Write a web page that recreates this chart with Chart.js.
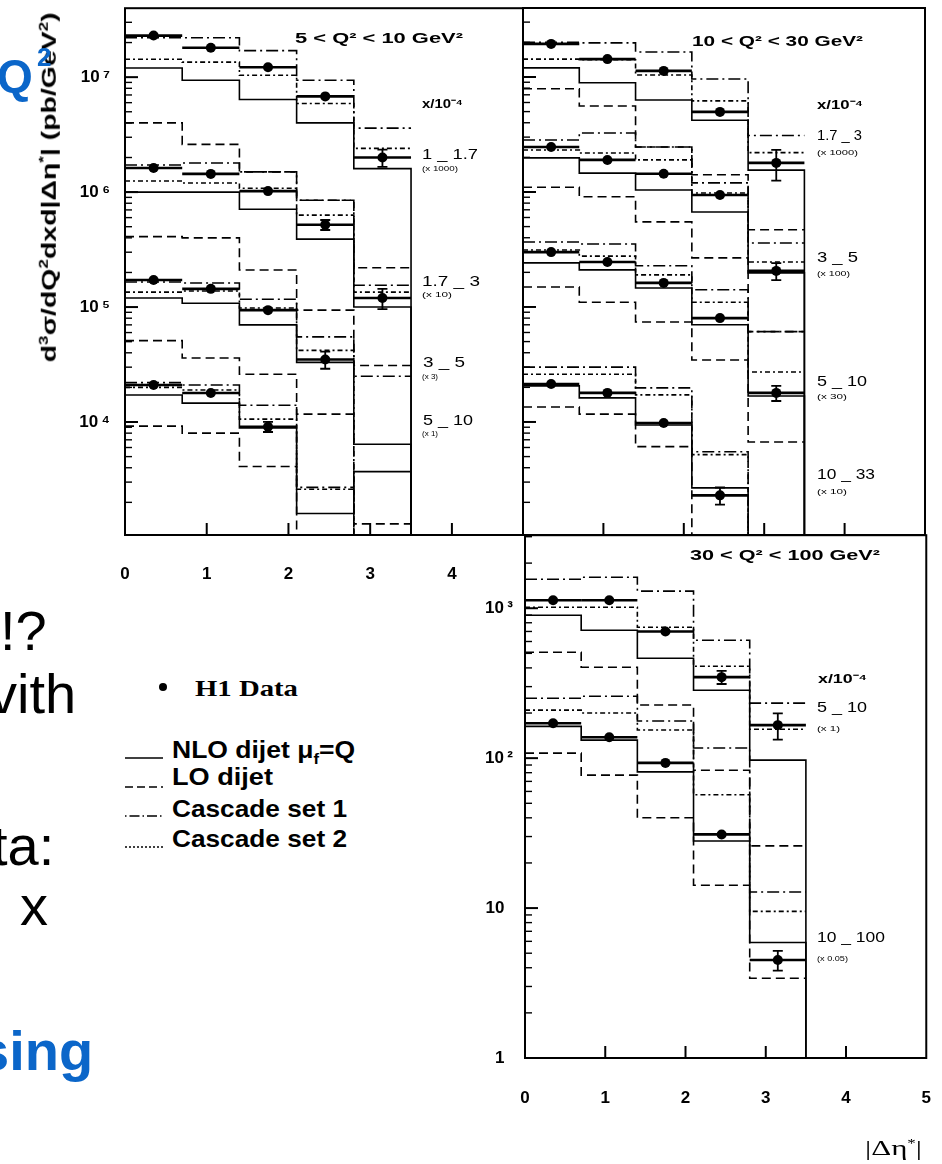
<!DOCTYPE html>
<html>
<head>
<meta charset="utf-8">
<title>Dijet cross section vs |Δη*|</title>
<script src="https://cdn.jsdelivr.net/npm/chart.js@4.4.1/dist/chart.umd.min.js"></script>
<style>
  html, body { margin: 0; padding: 0; background: #fff; }
  body { width: 942px; height: 1164px; position: relative; overflow: hidden;
         font-family: "Liberation Sans", Arial, sans-serif; color: #000; }
  canvas { position: absolute; }
  .t { position: absolute; white-space: nowrap; line-height: 1; transform-origin: 0 50%; }
  .hd { font-weight: bold; font-size: 15px; }
  .xl { font-size: 14px; }
  .sc { font-size: 8px; }
  .slide { position: absolute; white-space: nowrap; line-height: 1; font-size: 56px; }
  .blue { color: #0b66c9; font-weight: bold; }
  .leg { position: absolute; white-space: nowrap; line-height: 1; font-weight: bold; font-size: 24px; transform-origin: 0 50%; }
</style>
</head>
<body>

<canvas id="tl" width="530" height="617" style="left:0;top:-17px"></canvas>
<canvas id="tr" width="427" height="545" style="left:515px;top:0"></canvas>
<canvas id="br" width="561" height="651" style="left:400px;top:513px"></canvas>

<div id="ytitle" class="t" style="font-weight:bold;font-size:20px">d<sup style="font-size:12px">3</sup>σ/dQ<sup style="font-size:12px">2</sup>dxd|Δη<sup style="font-size:12px">*</sup>| (pb/GeV<sup style="font-size:12px">2</sup>)</div>

<!-- panel labels -->
<div class="t hd" data-w="168" style="left:295px;top:30px">5 &lt; Q² &lt; 10 GeV²</div>
<div class="t hd" data-w="41" style="left:422px;top:97px;font-size:13px">x/10⁻⁴</div>
<div class="t xl" data-w="56" style="left:422px;top:147px">1 _ 1.7</div>
<div class="t sc" data-w="36" style="left:422px;top:165px">(x 1000)</div>
<div class="t xl" data-w="58" style="left:422px;top:274px">1.7 _ 3</div>
<div class="t sc" data-w="30" style="left:422px;top:291px">(x 10)</div>
<div class="t xl" data-w="42" style="left:423px;top:355px">3 _ 5</div>
<div class="t sc" data-w="16" style="left:422px;top:373px">(x 3)</div>
<div class="t xl" data-w="50" style="left:423px;top:413px">5 _ 10</div>
<div class="t sc" data-w="16" style="left:422px;top:430px">(x 1)</div>

<div class="t hd" data-w="171" style="left:692px;top:33px">10 &lt; Q² &lt; 30 GeV²</div>
<div class="t hd" data-w="46" style="left:817px;top:98px;font-size:13px">x/10⁻⁴</div>
<div class="t xl" data-w="45" style="left:817px;top:128px">1.7 _ 3</div>
<div class="t sc" data-w="41" style="left:817px;top:149px">(x 1000)</div>
<div class="t xl" data-w="41" style="left:817px;top:250px">3 _ 5</div>
<div class="t sc" data-w="33" style="left:817px;top:270px">(x 100)</div>
<div class="t xl" data-w="50" style="left:817px;top:374px">5 _ 10</div>
<div class="t sc" data-w="30" style="left:817px;top:393px">(x 30)</div>
<div class="t xl" data-w="58" style="left:817px;top:467px">10 _ 33</div>
<div class="t sc" data-w="30" style="left:817px;top:488px">(x 10)</div>

<div class="t hd" data-w="190" style="left:690px;top:547px">30 &lt; Q² &lt; 100 GeV²</div>
<div class="t hd" data-w="49" style="left:818px;top:672px;font-size:13px">x/10⁻⁴</div>
<div class="t xl" data-w="50" style="left:817px;top:700px">5 _ 10</div>
<div class="t sc" data-w="23" style="left:817px;top:725px">(x 1)</div>
<div class="t xl" data-w="68" style="left:817px;top:930px">10 _ 100</div>
<div class="t sc" data-w="31" style="left:817px;top:955px">(x 0.05)</div>
<div class="t" data-w="57" style="left:865px;top:1137px;font-family:'Liberation Serif',serif;font-size:22px">|Δη<sup style="font-size:12px">*</sup>|</div>

<!-- legend -->
<div style="position:absolute;left:159px;top:683px;width:8px;height:8px;border-radius:50%;background:#000"></div>
<div class="leg" data-w="103" style="left:195px;top:676px;font-family:'Liberation Serif',serif">H1 Data</div>
<svg style="position:absolute;left:122px;top:740px" width="52" height="120">
  <line x1="3" y1="18" x2="41" y2="18" stroke="#000" stroke-width="1.6"/>
  <line x1="3" y1="47" x2="41" y2="47" stroke="#000" stroke-width="1.6" stroke-dasharray="8,4"/>
  <line x1="3" y1="76" x2="41" y2="76" stroke="#000" stroke-width="1.6" stroke-dasharray="1.5,3,10,3"/>
  <line x1="3" y1="107" x2="41" y2="107" stroke="#000" stroke-width="1.6" stroke-dasharray="2,2"/>
</svg>
<div class="leg" data-w="183" style="left:172px;top:738px">NLO dijet μ<sub style="font-size:15px">f</sub>=Q</div>
<div class="leg" data-w="101" style="left:172px;top:765px">LO dijet</div>
<div class="leg" data-w="175" style="left:172px;top:797px">Cascade set 1</div>
<div class="leg" data-w="175" style="left:172px;top:827px">Cascade set 2</div>

<!-- slide text behind the figure -->
<div class="slide" style="left:0;top:603px">!?</div>
<div class="slide" style="left:-11px;top:666px">vith</div>
<div class="slide" style="left:-8px;top:818px">ta:</div>
<div class="slide" style="left:20px;top:878px">x</div>
<div class="slide blue" style="left:-22px;top:1023px">sing</div>
<div class="slide blue" style="left:-3px;top:53px;font-size:46px">Q</div>
<div class="slide blue" style="left:37px;top:44px;font-size:26px">2</div>

<script>
// bins in |Δη*|
var etaEdges = [0, 0.7, 1.4, 2.1, 2.8, 3.5];
var etaCentres = [0.35, 1.05, 1.75, 2.45, 3.15];

// ---- 5 < Q2 < 10 GeV2 ----
// x/1e-4 = 1 - 1.7
var q5_x1_data = [2.3e7, 1.8e7, 1.22e7, 6.8e6, 2.0e6];
var q5_x1_err  = [0.03, 0.03, 0.04, 0.05, 0.17];
var q5_x1_nlo  = [1.2e7, 9.4e6, 6.4e6, 4.0e6, 1.6e6];
var q5_x1_lo   = [4.0e6, 2.6e6, 1.5e6, 8.5e5, 2.2e5];
var q5_x1_cas1 = [2.2e7, 2.2e7, 1.7e7, 9.4e6, 3.6e6];
var q5_x1_cas2 = [1.43e7, 1.35e7, 1.04e7, 5.9e6, 2.4e6];
// 1.7 - 3
var q5_x2_data = [1.62e6, 1.44e6, 1.02e6, 5.2e5, 1.2e5];
var q5_x2_err  = [0.03, 0.03, 0.04, 0.10, 0.20];
var q5_x2_nlo  = [1.0e6, 1.0e6, 7.1e5, 3.9e5, 1.0e5];
var q5_x2_lo   = [4.1e5, 4.0e5, 2.1e5, 9.4e4, 3.1e4];
var q5_x2_cas1 = [1.72e6, 1.79e6, 1.5e6, 8.5e5, 1.55e5];
var q5_x2_cas2 = [1.25e6, 1.2e6, 1.08e6, 6.3e5, 1.35e5];
// 3 - 5
var q5_x3_data = [1.72e5, 1.44e5, 9.4e4, 3.5e4, null];
var q5_x3_err  = [0.04, 0.04, 0.06, 0.17, null];
var q5_x3_nlo  = [1.2e5, 1.08e5, 7.0e4, 3.3e4, 6.4e3];
var q5_x3_lo   = [5.1e4, 3.6e4, 2.6e4, 1.17e4, 1.3e3];
var q5_x3_cas1 = [1.65e5, 1.62e5, 1.17e5, 5.5e4, 2.5e4];
var q5_x3_cas2 = [1.35e5, 1.38e5, 9.8e4, 4.2e4, null];
// 5 - 10
var q5_x4_data = [2.1e4, 1.79e4, 9.1e3, null, null];
var q5_x4_err  = [0.05, 0.05, 0.10, null, null];
var q5_x4_nlo  = [1.72e4, 1.46e4, 8.9e3, 1.6e3, 3.7e3];
var q5_x4_lo   = [9.2e3, 8.0e3, 4.1e3, null, null];
var q5_x4_cas1 = [2.2e4, 2.1e4, 1.4e4, 2.7e3, null];
var q5_x4_cas2 = [2.0e4, 1.9e4, 1.06e4, 2.6e3, null];

// ---- 10 < Q2 < 30 GeV2 ----
// 1.7 - 3
var q10_x1_data = [1.94e7, 1.43e7, 1.13e7, 4.97e6, 1.79e6];
var q10_x1_err  = [0.03, 0.03, 0.04, 0.06, 0.30];
var q10_x1_nlo  = [1.2e7, 8.9e6, 6.3e6, 4.2e6, 1.55e6];
var q10_x1_lo   = [7.9e6, 5.6e6, 2.46e6, 1.41e6, 4.7e5];
var q10_x1_cas1 = [2.0e7, 1.98e7, 1.65e7, 9.6e6, 3.1e6];
var q10_x1_cas2 = [1.43e7, 1.41e7, 1.04e7, 6.2e6, 2.2e6];
// 3 - 5
var q10_x2_data = [2.46e6, 1.9e6, 1.44e6, 9.4e5, 2.06e5];
var q10_x2_err  = [0.04, 0.04, 0.05, 0.06, 0.17];
var q10_x2_nlo  = [1.98e6, 1.46e6, 1.04e6, 6.7e5, 1.98e5];
var q10_x2_lo   = [1.1e6, 9.1e5, 5.5e5, 2.67e5, 6.1e4];
var q10_x2_cas1 = [2.83e6, 3.26e6, 2.46e6, 1.2e6, 3.6e5];
var q10_x2_cas2 = [2.32e6, 2.18e6, 1.9e6, 9.8e5, 2.46e5];
// 5 - 10
var q10_x3_data = [3.0e5, 2.46e5, 1.62e5, 8.0e4, 1.79e4];
var q10_x3_err  = [0.04, 0.05, 0.06, 0.08, 0.15];
var q10_x3_nlo  = [2.42e5, 2.1e5, 1.46e5, 7.0e4, 1.68e4];
var q10_x3_lo   = [1.49e5, 1.1e5, 7.4e4, 3.46e4, 6.7e3];
var q10_x3_cas1 = [3.67e5, 3.53e5, 2.28e5, 1.41e5, 6.1e4];
var q10_x3_cas2 = [3.13e5, 2.77e5, 1.9e5, 1.1e5, 2.72e4];
// 10 - 33
var q10_x4_data = [2.14e4, 1.79e4, 9.8e3, 2.3e3, null];
var q10_x4_err  = [0.05, 0.05, 0.06, 0.17, null];
var q10_x4_nlo  = [2.06e4, 1.62e4, 9.4e3, 2.67e3, null];
var q10_x4_lo   = [1.35e4, 1.17e4, 6.1e3, null, null];
var q10_x4_cas1 = [3.0e4, 3.0e4, 1.98e4, 5.5e3, null];
var q10_x4_cas2 = [2.6e4, 2.6e4, 1.72e4, 5.2e3, null];

// ---- 30 < Q2 < 100 GeV2 ----
// 5 - 10
var q30_x1_data = [1130, 1130, 700, 347, 166];
var q30_x1_err  = [0.03, 0.03, 0.04, 0.10, 0.20];
var q30_x1_nlo  = [898, 713, 464, 284, 97];
var q30_x1_lo   = [509, 404, 226, 83, 26];
var q30_x1_cas1 = [1560, 1610, 1300, 612, 233];
var q30_x1_cas2 = [1016, 1016, 747, 410, 156];
// 10 - 100
var q30_x2_data = [171, 138, 93, 31, 4.5];
var q30_x2_err  = [0.03, 0.04, 0.05, 0.06, 0.15];
var q30_x2_nlo  = [163, 132, 81, 28, 5.9];
var q30_x2_lo   = [108, 77, 40, 14.2, 3.4];
var q30_x2_cas1 = [251, 259, 177, 117, 12.8];
var q30_x2_cas2 = [209, 200, 154, 57, 9.5];

Chart.defaults.font.family = '"Liberation Sans", Arial, sans-serif';
Chart.defaults.color = '#000';

var SUP = {'-': '⁻', '0': '⁰', '1': '¹', '2': '²', '3': '³', '4': '⁴', '5': '⁵', '6': '⁶', '7': '⁷', '8': '⁸', '9': '⁹'};

function decadeLabel(v) {
  var l = Math.log10(v), n = Math.round(l);
  if (Math.abs(l - n) > 1e-6) return '';
  if (n === 0) return '1\u2002';
  if (n === 1) return '10\u2002';
  return '10\u2009' + String(n).split('').map(function (c) { return SUP[c]; }).join('');
}

// histogram as a stepped line through the bin edges
function stepLine(vals, dash, drop) {
  var pts = [], last = -1;
  for (var i = 0; i < vals.length && vals[i] != null; i++) {
    pts.push({x: etaEdges[i], y: vals[i]});
    last = i;
  }
  pts.push({x: etaEdges[last + 1], y: vals[last]});
  if (drop || last < vals.length - 1) pts.push({x: etaEdges[last + 1], y: 1e-3});
  return {
    type: 'line', data: pts, borderColor: '#000', borderWidth: 1.6,
    borderDash: dash, stepped: true, pointRadius: 0, fill: false
  };
}

function dataPoints(vals, errs) {
  var pts = [];
  for (var i = 0; i < vals.length; i++) {
    if (vals[i] == null) continue;
    pts.push({x: etaCentres[i], y: vals[i], e: errs[i], bin: i});
  }
  return {
    type: 'scatter', data: pts, isData: true, pointRadius: 5,
    pointBackgroundColor: '#000', pointBorderColor: '#000', pointBorderWidth: 0
  };
}

function buildSets(groups) {
  var sets = [];
  groups.forEach(function (g) {
    sets.push(stepLine(g[3], [9, 5]));
    sets.push(stepLine(g[5], [5, 3, 2, 3]));
    sets.push(stepLine(g[4], [12, 4, 2, 4]));
    sets.push(stepLine(g[2], [], true));
    sets.push(dataPoints(g[0], g[1]));
  });
  return sets;
}

// frame, inward ticks, bin-width bars and error bars
var framePlugin = {
  id: 'h1frame',
  afterDatasetsDraw: function (chart) {
    var ctx = chart.ctx, a = chart.chartArea;
    var xs = chart.scales.x, ys = chart.scales.y;
    ctx.save();
    ctx.strokeStyle = '#000';
    ctx.setLineDash([]);
    chart.data.datasets.forEach(function (ds) {
      if (!ds.isData) return;
      ds.data.forEach(function (p) {
        var py = ys.getPixelForValue(p.y);
        ctx.lineWidth = 2.6;
        ctx.beginPath();
        ctx.moveTo(xs.getPixelForValue(etaEdges[p.bin]), py);
        ctx.lineTo(xs.getPixelForValue(etaEdges[p.bin + 1]), py);
        ctx.stroke();
        var top = ys.getPixelForValue(p.y * (1 + p.e));
        var bot = ys.getPixelForValue(p.y * (1 - p.e));
        if (bot - top > 10) {
          var px = xs.getPixelForValue(p.x);
          ctx.lineWidth = 1.8;
          ctx.beginPath();
          ctx.moveTo(px, top); ctx.lineTo(px, bot);
          ctx.moveTo(px - 5, top); ctx.lineTo(px + 5, top);
          ctx.moveTo(px - 5, bot); ctx.lineTo(px + 5, bot);
          ctx.stroke();
        }
      });
    });
    // y ticks (log), pointing inwards
    var lo = Math.floor(Math.log10(ys.min)), hi = Math.ceil(Math.log10(ys.max));
    for (var n = lo; n <= hi; n++) {
      for (var m = 1; m <= 9; m++) {
        var v = m * Math.pow(10, n);
        if (v < ys.min || v > ys.max) continue;
        var y = ys.getPixelForValue(v);
        ctx.lineWidth = m === 1 ? 2 : 1.4;
        ctx.beginPath();
        ctx.moveTo(a.left, y);
        ctx.lineTo(a.left + (m === 1 ? 13 : 7), y);
        ctx.stroke();
      }
    }
    // x ticks
    ctx.lineWidth = 2;
    for (var k = 1; k < xs.max; k++) {
      var x = xs.getPixelForValue(k);
      ctx.beginPath();
      ctx.moveTo(x, a.bottom);
      ctx.lineTo(x, a.bottom - 12);
      ctx.stroke();
    }
    ctx.lineWidth = 2;
    ctx.strokeRect(a.left, a.top, a.right - a.left, a.bottom - a.top);
    ctx.restore();
  }
};

function panel(id, groups, cfg) {
  return new Chart(document.getElementById(id), {
    type: 'scatter',
    data: {datasets: buildSets(groups)},
    options: {
      responsive: false,
      devicePixelRatio: 1,
      animation: false,
      layout: {padding: cfg.padding, autoPadding: false},
      plugins: {legend: {display: false}, tooltip: {enabled: false}},
      scales: {
        x: {
          type: 'linear', min: 0, max: cfg.xMax, display: cfg.xLabels,
          grid: {display: false, drawTicks: false}, border: {display: false},
          ticks: {
            stepSize: 1, includeBounds: false, padding: cfg.xPad,
            font: {size: 17, weight: 'bold'},
            callback: function (v) { return Number.isInteger(v) ? String(v) : ''; }
          },
          afterFit: function (s) { s.height = cfg.xHeight; }
        },
        y: {
          type: 'logarithmic', min: cfg.yMin, max: cfg.yMax, display: cfg.yLabels,
          grid: {display: false, drawTicks: false}, border: {display: false},
          ticks: {
            autoSkip: false, padding: cfg.yPad,
            font: {size: 17, weight: 'bold'},
            callback: function (v) { return decadeLabel(v); }
          },
          afterFit: function (s) { s.width = cfg.yWidth; }
        }
      }
    },
    plugins: [framePlugin]
  });
}

panel('tl', [
  [q5_x1_data, q5_x1_err, q5_x1_nlo, q5_x1_lo, q5_x1_cas1, q5_x1_cas2],
  [q5_x2_data, q5_x2_err, q5_x2_nlo, q5_x2_lo, q5_x2_cas1, q5_x2_cas2],
  [q5_x3_data, q5_x3_err, q5_x3_nlo, q5_x3_lo, q5_x3_cas1, q5_x3_cas2],
  [q5_x4_data, q5_x4_err, q5_x4_nlo, q5_x4_lo, q5_x4_cas1, q5_x4_cas2]
], {padding: {top: 8, right: 7, left: 0, bottom: 0}, xMax: 4.87, yMin: 1040, yMax: 3.98e7,
    xLabels: true, yLabels: true, xHeight: 65, yWidth: 125, xPad: 29, yPad: 15});

panel('tr', [
  [q10_x1_data, q10_x1_err, q10_x1_nlo, q10_x1_lo, q10_x1_cas1, q10_x1_cas2],
  [q10_x2_data, q10_x2_err, q10_x2_nlo, q10_x2_lo, q10_x2_cas1, q10_x2_cas2],
  [q10_x3_data, q10_x3_err, q10_x3_nlo, q10_x3_lo, q10_x3_cas1, q10_x3_cas2],
  [q10_x4_data, q10_x4_err, q10_x4_nlo, q10_x4_lo, q10_x4_cas1, q10_x4_cas2]
], {padding: {top: 8, right: 17, left: 8, bottom: 10}, xMax: 5, yMin: 1040, yMax: 3.98e7,
    xLabels: false, yLabels: false, xHeight: 0, yWidth: 0, xPad: 0, yPad: 0});

panel('br', [
  [q30_x1_data, q30_x1_err, q30_x1_nlo, q30_x1_lo, q30_x1_cas1, q30_x1_cas2],
  [q30_x2_data, q30_x2_err, q30_x2_nlo, q30_x2_lo, q30_x2_cas1, q30_x2_cas2]
], {padding: {top: 5, right: 17, left: 0, bottom: 0}, xMax: 5, yMin: 1, yMax: 3070,
    xLabels: true, yLabels: true, xHeight: 106, yWidth: 125, xPad: 30, yPad: 12});

// squeeze labels to the widths they have in the figure
document.querySelectorAll('[data-w]').forEach(function (el) {
  var w = el.getBoundingClientRect().width;
  el.style.transform = 'scaleX(' + (parseFloat(el.dataset.w) / w) + ')';
});

// rotated y-axis title, centred at (48, 187), 350 px long
var yt = document.getElementById('ytitle');
var r = yt.getBoundingClientRect();
yt.style.left = (48 - r.width / 2) + 'px';
yt.style.top = (187 - r.height / 2) + 'px';
yt.style.transformOrigin = '50% 50%';
yt.style.transform = 'rotate(-90deg) scaleX(' + (350 / r.width) + ')';
</script>
</body>
</html>
